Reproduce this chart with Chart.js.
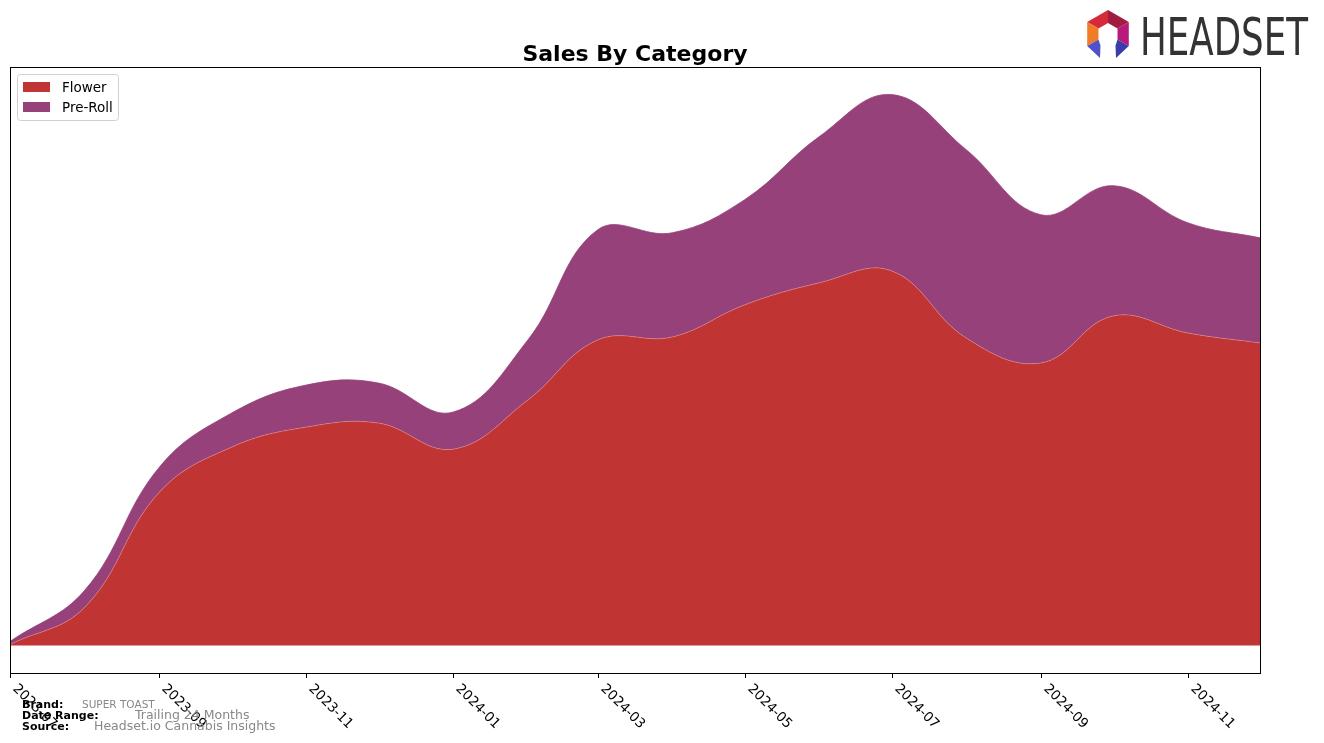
<!DOCTYPE html>
<html>
<head>
<meta charset="utf-8">
<script src="https://cdn.jsdelivr.net/npm/chart.js@4.4.0/dist/chart.umd.min.js"></script>
<style>
  html, body { margin: 0; padding: 0; background: #fff; }
  #wrap { width: 1324px; height: 743px; }
</style>
</head>
<body>
<div id="wrap"><canvas id="salesChart" width="1324" height="743"></canvas></div>
<script>
// Données (unité arbitraire)
const months = ["2023-07", "2023-08", "2023-09", "2023-10", "2023-11", "2023-12",
                "2024-01", "2024-02", "2024-03", "2024-04", "2024-05", "2024-06",
                "2024-07", "2024-08", "2024-09", "2024-10", "2024-11", "2024-12"];
const flower  = [1, 38, 153, 198, 218, 222, 196, 245, 305, 308, 340, 362, 374, 307, 282, 329, 312, 302];
const preRoll = [3, 17, 25, 34, 42, 40, 37, 60, 110, 104, 105, 146, 176, 188, 148, 130, 110, 105];
const tickLabels = ["2023-07", "2023-09", "2023-11", "2024-01", "2024-03", "2024-05", "2024-07", "2024-09", "2024-11"];

const FONT = "'DejaVu Sans', sans-serif";

// jours depuis le premier mois
function dayOf(m) {
  const [y, mo] = m.split("-").map(Number);
  return (Date.UTC(y, mo - 1, 1) - Date.UTC(2023, 6, 1)) / 86400000;
}

function points(values) {
  return values.map((v, i) => ({ x: dayOf(months[i]), y: v }));
}

// Décor : cadre, graduations, titre, légende, pied de page, logo
const decor = {
  id: "decor",
  afterDatasetsDraw(chart) {
    const ctx = chart.ctx;
    const area = chart.chartArea;
    const xs = chart.scales.x;
    ctx.save();

    // cadre
    ctx.strokeStyle = "#000";
    ctx.lineWidth = 1;
    ctx.strokeRect(area.left + 0.5, area.top + 0.5, area.right - area.left, area.bottom - area.top);

    // graduations et étiquettes
    ctx.font = "13.5px " + FONT;
    ctx.fillStyle = "#000";
    tickLabels.forEach(t => {
      const px = Math.round(xs.getPixelForValue(dayOf(t))) + 0.5;
      ctx.beginPath();
      ctx.moveTo(px, area.bottom);
      ctx.lineTo(px, area.bottom + 5);
      ctx.stroke();
      ctx.save();
      ctx.translate(px + 9, area.bottom + 9);
      ctx.rotate(Math.PI / 4);
      ctx.textAlign = "left";
      ctx.textBaseline = "top";
      ctx.fillText(t, 0, 0);
      ctx.restore();
    });

    // titre
    ctx.font = "bold 22px " + FONT;
    ctx.textAlign = "center";
    ctx.textBaseline = "alphabetic";
    ctx.fillText("Sales By Category", (area.left + area.right) / 2, 61);

    // légende
    ctx.beginPath();
    ctx.roundRect(17.5, 74.5, 101, 46, 3);
    ctx.fillStyle = "rgba(255,255,255,0.8)";
    ctx.fill();
    ctx.strokeStyle = "#d0d0d0";
    ctx.stroke();
    const items = [["Flower", chart.data.datasets[0].backgroundColor],
                   ["Pre-Roll", chart.data.datasets[1].backgroundColor]];
    ctx.font = "13.5px " + FONT;
    ctx.textAlign = "left";
    ctx.textBaseline = "middle";
    items.forEach((it, i) => {
      const y = 82 + i * 20;
      ctx.fillStyle = it[1];
      ctx.fillRect(23, y, 27, 10);
      ctx.fillStyle = "#000";
      ctx.fillText(it[0], 62, y + 6);
    });

    // pied de page
    ctx.textBaseline = "alphabetic";
    const foot = [["Brand:", "SUPER TOAST", 82, 708, 10.5],
                  ["Date Range:", "Trailing 24 Months", 135, 719, 12.5],
                  ["Source:", "Headset.io Cannabis Insights", 94, 730, 12.5]];
    foot.forEach(f => {
      ctx.font = "bold 11px " + FONT;
      ctx.fillStyle = "#000";
      ctx.fillText(f[0], 22, f[3]);
      ctx.font = f[4] + "px " + FONT;
      ctx.fillStyle = "#888";
      ctx.fillText(f[1], f[2], f[3]);
    });

    // logo
    const cx = 1108, cy = 34, ro = 24, ri = 11;
    const pt = (a, r) => [cx + r * Math.cos(a * Math.PI / 180), cy + r * Math.sin(a * Math.PI / 180)];
    const segs = [[210, 270, "#d42a3c"], [270, 330, "#a11d3f"], [330, 390, "#b81a7c"], [150, 210, "#f07c28"]];
    segs.forEach(s => {
      const p = [pt(s[0], ro), pt(s[1], ro), pt(s[1], ri), pt(s[0], ri)];
      ctx.beginPath();
      ctx.moveTo(p[0][0], p[0][1]);
      p.slice(1).forEach(q => ctx.lineTo(q[0], q[1]));
      ctx.closePath();
      ctx.fillStyle = s[2];
      ctx.fill();
    });
    // pieds bleus
    const a = pt(150, ro), b = pt(150, ri), c = pt(30, ro), d = pt(30, ri);
    ctx.fillStyle = "#5050c8";
    ctx.beginPath();
    ctx.moveTo(a[0], a[1]); ctx.lineTo(b[0], b[1]); ctx.lineTo(b[0] + 2, b[1] + 6); ctx.lineTo(cx - 8, cy + 24);
    ctx.closePath(); ctx.fill();
    ctx.fillStyle = "#3c3ca8";
    ctx.beginPath();
    ctx.moveTo(c[0], c[1]); ctx.lineTo(d[0], d[1]); ctx.lineTo(d[0] - 2, d[1] + 6); ctx.lineTo(cx + 8, cy + 24);
    ctx.closePath(); ctx.fill();

    ctx.fillStyle = "#333";
    ctx.font = "52px 'Liberation Sans Narrow', 'DejaVu Sans Condensed', sans-serif";
    ctx.textAlign = "left";
    ctx.textBaseline = "alphabetic";
    const w = ctx.measureText("HEADSET").width;
    ctx.save();
    ctx.translate(1140, 55);
    ctx.scale(168 / w, 1);
    ctx.fillText("HEADSET", 0, 0);
    ctx.restore();

    ctx.restore();
  }
};

const ctx = document.getElementById("salesChart").getContext("2d");
new Chart(ctx, {
  type: "line",
  data: {
    datasets: [
      {
        label: "Flower",
        data: points(flower),
        backgroundColor: "#c03434",
        borderColor: "rgba(230,150,150,0.6)",
        borderWidth: 0.8,
        fill: "origin",
        pointRadius: 0,
        tension: 0.4
      },
      {
        label: "Pre-Roll",
        data: points(preRoll),
        backgroundColor: "#96417a",
        borderColor: "#96417a",
        borderWidth: 0.8,
        fill: "-1",
        pointRadius: 0,
        tension: 0.4
      }
    ]
  },
  options: {
    responsive: false,
    animation: false,
    layout: { padding: { left: 10, right: 64, top: 67, bottom: 70 } },
    plugins: { legend: { display: false }, title: { display: false }, tooltip: { enabled: false } },
    scales: {
      x: { type: "linear", display: false, min: 0, max: dayOf("2024-12") },
      y: { display: false, stacked: true, min: -27.5, max: 577.5 }
    }
  },
  plugins: [decor]
});
</script>
</body>
</html>
